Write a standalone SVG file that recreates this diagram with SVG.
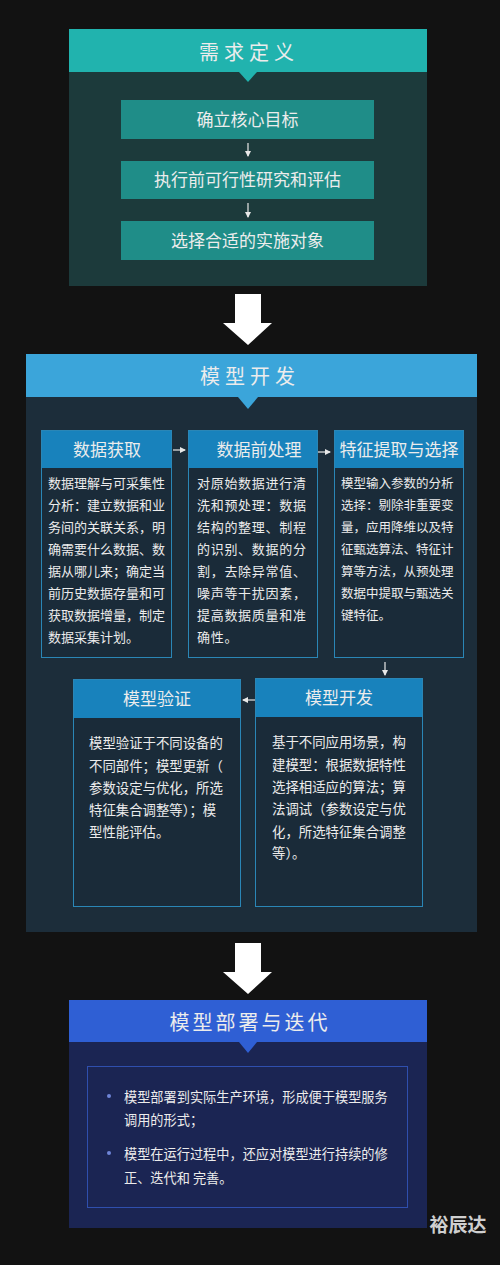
<svg xmlns="http://www.w3.org/2000/svg" width="500" height="1265" viewBox="0 0 500 1265">
<defs>
<style>
text{font-family:"Noto Sans CJK SC","Noto Sans",sans-serif;fill:#ececec;}
.h1{font-size:20px;letter-spacing:5px;text-anchor:middle;}
.h2{font-size:17px;text-anchor:middle;}
.b{font-size:13px;}
.sm{stroke:#e8e8e8;stroke-width:1.2;fill:none;}
.bx{fill:#1a2b39;stroke:#2a86b6;stroke-width:1;}
.bh{fill:#1882bc;}
</style>
<marker id="ah" viewBox="0 0 6 6" refX="5" refY="3" markerWidth="5" markerHeight="5" orient="auto"><path d="M0,0 L6,3 L0,6 z" fill="#e8e8e8"/></marker>
</defs>
<rect width="500" height="1265" fill="#121212"/>

<g id="panel-need">
<rect x="69" y="29" width="358" height="257" fill="#1c3a3b"/>
<rect x="69" y="29" width="358" height="43" fill="#21b3ae"/>
<path d="M239,72 L257,72 L248,82 z" fill="#21b3ae"/>
<text class="h1" x="249" y="60">需求定义</text>
</g>
<g id="need-1"><rect x="121" y="100" width="253" height="39" fill="#1f8d88"/><text class="h2" x="247.5" y="126">确立核心目标</text></g>
<g id="need-2"><rect x="121" y="161" width="253" height="38" fill="#1f8d88"/><text class="h2" x="247.5" y="186">执行前可行性研究和评估</text></g>
<g id="need-3"><rect x="121" y="221" width="253" height="39" fill="#1f8d88"/><text class="h2" x="247.5" y="247">选择合适的实施对象</text></g>

<g id="panel-dev">
<rect x="26" y="354" width="451" height="578" fill="#1c2d3a"/>
<rect x="26" y="354" width="451" height="43" fill="#3ba5da"/>
<path d="M238,397 L258,397 L248,409 z" fill="#3ba5da"/>
<text class="h1" x="250" y="384">模型开发</text>
</g>

<g id="box-acquire">
<rect class="bx" x="41.5" y="430.5" width="130" height="227"/>
<rect class="bh" x="42" y="431" width="129" height="37"/>
<text class="h2" x="107" y="456">数据获取</text>
<text class="b" x="48" y="488">数据理解与可采集性</text>
<text class="b" x="48" y="510">分析：建立数据和业</text>
<text class="b" x="48" y="532">务间的关联关系，明</text>
<text class="b" x="48" y="554">确需要什么数据、数</text>
<text class="b" x="48" y="576">据从哪儿来；确定当</text>
<text class="b" x="48" y="598">前历史数据存量和可</text>
<text class="b" x="48" y="620">获取数据增量，制定</text>
<text class="b" x="48" y="642">数据采集计划。</text>
</g>

<g id="box-preprocess">
<rect class="bx" x="188.5" y="430.5" width="129" height="227"/>
<rect class="bh" x="189" y="431" width="128" height="37"/>
<text class="h2" x="259" y="456">数据前处理</text>
<g class="b" style="font-size:13px;letter-spacing:0.7px">
<text class="b" x="197" y="488" style="letter-spacing:0.7px">对原始数据进行清</text>
<text class="b" x="197" y="510" style="letter-spacing:0.7px">洗和预处理：数据</text>
<text class="b" x="197" y="532" style="letter-spacing:0.7px">结构的整理、制程</text>
<text class="b" x="197" y="554" style="letter-spacing:0.7px">的识别、数据的分</text>
<text class="b" x="197" y="576" style="letter-spacing:0.7px">割，去除异常值、</text>
<text class="b" x="197" y="598" style="letter-spacing:0.7px">噪声等干扰因素，</text>
<text class="b" x="197" y="620" style="letter-spacing:0.7px">提高数据质量和准</text>
<text class="b" x="197" y="642" style="letter-spacing:0.7px">确性。</text>
</g>
</g>

<g id="box-feature">
<rect class="bx" x="334.5" y="430.5" width="129" height="227"/>
<rect class="bh" x="335" y="431" width="128" height="37"/>
<text class="h2" x="399" y="456">特征提取与选择</text>
<text class="b" x="341" y="488" style="font-size:12.5px">模型输入参数的分析</text>
<text class="b" x="341" y="510" style="font-size:12.5px">选择：剔除非重要变</text>
<text class="b" x="341" y="532" style="font-size:12.5px">量，应用降维以及特</text>
<text class="b" x="341" y="554" style="font-size:12.5px">征甄选算法、特征计</text>
<text class="b" x="341" y="576" style="font-size:12.5px">算等方法，从预处理</text>
<text class="b" x="341" y="598" style="font-size:12.5px">数据中提取与甄选关</text>
<text class="b" x="341" y="620" style="font-size:12.5px">键特征。</text>
</g>

<g id="box-validate">
<rect class="bx" x="73.5" y="679.5" width="167" height="227"/>
<rect class="bh" x="74" y="680" width="166" height="38"/>
<text class="h2" x="157" y="705">模型验证</text>
<text class="b" x="89" y="748" style="font-size:13.4px">模型验证于不同设备的</text>
<text class="b" x="89" y="771" style="font-size:13.4px">不同部件；模型更新（</text>
<text class="b" x="89" y="793" style="font-size:13.4px">参数设定与优化，所选</text>
<text class="b" x="89" y="815" style="font-size:13.4px">特征集合调整等）；模</text>
<text class="b" x="89" y="837" style="font-size:13.4px">型性能评估。</text>
</g>

<g id="box-build">
<rect class="bx" x="255.5" y="678.5" width="167" height="228"/>
<rect class="bh" x="256" y="679" width="166" height="38"/>
<text class="h2" x="339" y="704">模型开发</text>
<text class="b" x="272" y="747" style="font-size:13.4px">基于不同应用场景，构</text>
<text class="b" x="272" y="770" style="font-size:13.4px">建模型：根据数据特性</text>
<text class="b" x="272" y="792" style="font-size:13.4px">选择相适应的算法；算</text>
<text class="b" x="272" y="814" style="font-size:13.4px">法调试（参数设定与优</text>
<text class="b" x="272" y="837" style="font-size:13.4px">化，所选特征集合调整</text>
<text class="b" x="272" y="858" style="font-size:13.4px">等）。</text>
</g>

<g id="panel-deploy">
<rect x="69" y="1000" width="358" height="228" fill="#1b2553"/>
<rect x="69" y="1000" width="358" height="42" fill="#2f5fd4"/>
<path d="M239,1042 L257,1042 L248,1053 z" fill="#2f5fd4"/>
<text class="h1" x="250" y="1030" style="letter-spacing:3px">模型部署与迭代</text>
<rect x="87.5" y="1066.5" width="320" height="141" fill="none" stroke="#2f4fae" stroke-width="1"/>
<circle cx="109" cy="1096" r="2" fill="#6f86d8"/>
<circle cx="109" cy="1153" r="2" fill="#6f86d8"/>
<text class="b" x="124" y="1102" style="font-size:13.2px">模型部署到实际生产环境，形成便于模型服务</text>
<text class="b" x="124" y="1125" style="font-size:13.2px">调用的形式；</text>
<text class="b" x="124" y="1159" style="font-size:13.2px">模型在运行过程中，还应对模型进行持续的修</text>
<text class="b" x="124" y="1183" style="font-size:13.2px">正、迭代和 完善。</text>
</g>

<g id="connectors">
<line class="sm" x1="248" y1="143" x2="248" y2="156" marker-end="url(#ah)"/>
<line class="sm" x1="248" y1="203" x2="248" y2="217" marker-end="url(#ah)"/>
<path d="M235,294 L261,294 L261,323 L272,323 L248,345 L223,323 L235,323 z" fill="#ffffff"/>
<line class="sm" x1="173" y1="450" x2="185" y2="450" marker-end="url(#ah)"/>
<line class="sm" x1="318" y1="452" x2="330" y2="452" marker-end="url(#ah)"/>
<line class="sm" x1="385" y1="662" x2="385" y2="675" marker-end="url(#ah)"/>
<line class="sm" x1="255" y1="700" x2="243" y2="700" marker-end="url(#ah)"/>
<path d="M235,943 L261,943 L261,972 L272,972 L248,994 L223,972 L235,972 z" fill="#ffffff"/>
</g>

<text x="458" y="1232" style="font-size:19px;font-weight:bold;fill:#cfcfcf;text-anchor:middle">裕辰达</text>
</svg>
